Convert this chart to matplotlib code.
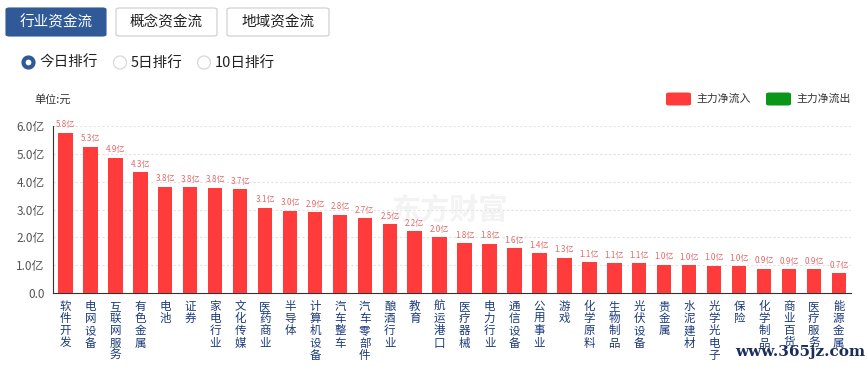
import matplotlib
matplotlib.use("Agg")
import matplotlib.pyplot as plt
from matplotlib.patches import FancyBboxPatch, Ellipse

plt.rcParams['font.family'] = ['Noto Sans CJK SC', 'DejaVu Sans']

# 行业资金流 今日排行 (单位: 亿元)
industries = ['软件开发', '电网设备', '互联网服务', '有色金属', '电池', '证券', '家电行业', '文化传媒',
              '医药商业', '半导体', '计算机设备', '汽车整车', '汽车零部件', '酿酒行业', '教育', '航运港口',
              '医疗器械', '电力行业', '通信设备', '公用事业', '游戏', '化学原料', '生物制品', '光伏设备',
              '贵金属', '水泥建材', '光学光电子', '保险', '化学制品', '商业百货', '医疗服务', '能源金属']
inflow = [5.76, 5.26, 4.86, 4.33, 3.82, 3.80, 3.78, 3.73,
          3.06, 2.96, 2.90, 2.82, 2.68, 2.48, 2.22, 2.01,
          1.78, 1.77, 1.61, 1.42, 1.27, 1.10, 1.07, 1.06,
          1.02, 1.01, 0.98, 0.97, 0.87, 0.86, 0.86, 0.72]
yticks = [0, 1, 2, 3, 4, 5, 6]
ytick_labels = ['0.0', '1.0亿', '2.0亿', '3.0亿', '4.0亿', '5.0亿', '6.0亿']

W, H = 867, 367
fig = plt.figure(figsize=(W / 100, H / 100), dpi=100)


def fx(x):
    return x / W


def fy(y):
    return 1 - y / H


# 顶部按钮
buttons = [('行业资金流', 6, 106, True), ('概念资金流', 116, 217, False), ('地域资金流', 227, 329, False)]
for label, x0, x1, active in buttons:
    box = FancyBboxPatch((fx(x0), fy(36)), fx(x1 - x0), (36 - 8) / H,
                         boxstyle='round,pad=0,rounding_size=0.004', transform=fig.transFigure,
                         facecolor='#2f5a97' if active else 'white',
                         edgecolor='#2f5a97' if active else '#c8ccd2', linewidth=0.8)
    fig.patches.append(box)
    fig.text(fx((x0 + x1) / 2), fy(22), label, ha='center', va='center', fontsize=10.5,
             color='white' if active else '#222222')

# 单选项
radios = [('今日排行', 28.5, True), ('5日排行', 120, False), ('10日排行', 204, False)]
for label, cx, on in radios:
    if on:
        fig.patches.append(Ellipse((fx(cx), fy(62.5)), 10 / W, 10 / H, transform=fig.transFigure,
                                   facecolor='white', edgecolor='#2f5a97', linewidth=3.0))
    else:
        fig.patches.append(Ellipse((fx(cx), fy(62.5)), 13 / W, 13 / H, transform=fig.transFigure,
                                   facecolor='white', edgecolor='#d5d8dc', linewidth=0.9))
    fig.text(fx(cx + 11), fy(62.5), label, ha='left', va='center', fontsize=10.5, color='#222222')

fig.text(fx(34), fy(99), '单位:元', ha='left', va='center', fontsize=8, color='#333333')

# 图例
for label, x0, color in [('主力净流入', 666, '#ff3b3b'), ('主力净流出', 766, '#0a9619')]:
    fig.patches.append(FancyBboxPatch((fx(x0), fy(105.5)), fx(25), 13 / H,
                                      boxstyle='round,pad=0,rounding_size=0.004',
                                      transform=fig.transFigure, facecolor=color, edgecolor='none'))
    fig.text(fx(x0 + 30), fy(99), label, ha='left', va='center', fontsize=7.8, color='#333333')

# 主图
ax = fig.add_axes([fx(53), fy(293), fx(851.3 - 53), (293 - 126) / H])
ax.set_facecolor('none')
x = list(range(len(industries)))
bars = ax.bar(x, inflow, width=0.58, color='#ff3b3b', zorder=3)
for xi, v in zip(x, inflow):
    ax.text(xi, v + 0.12, f'{v:.1f}亿', ha='center', va='bottom', fontsize=5.8,
            color='#e2686a', clip_on=False, zorder=4)

ax.set_xlim(-0.5, len(industries) - 0.5)
ax.set_ylim(0, 6)
ax.set_yticks(yticks)
ax.set_yticklabels(ytick_labels, fontsize=8.5, color='#555555')
ax.set_xticks(x)
ax.set_xticklabels(['\n'.join(n) for n in industries], fontsize=8.3, color='#1c3b7c',
                   linespacing=0.92, va='top')
ax.tick_params(axis='both', length=0)
ax.tick_params(axis='x', pad=5)
ax.tick_params(axis='y', pad=6)
for yv in yticks[1:]:
    ax.axhline(yv, color='#e2e2e2', linewidth=0.8, linestyle=(0, (2, 2)), zorder=1)
for side in ['top', 'right']:
    ax.spines[side].set_visible(False)
ax.spines['left'].set_color('#333333')
ax.spines['bottom'].set_color('#333333')
ax.spines['left'].set_linewidth(0.8)
ax.spines['bottom'].set_linewidth(0.8)

# 水印
ax.text(fx(450), fy(210), '东方财富', transform=fig.transFigure, ha='center', va='center',
        fontsize=21, color='#f3f3f3', fontweight='bold', zorder=0.5)
fig.text(fx(800), fy(352), 'www.365jz.com', ha='center', va='center', fontsize=11,
         family='DejaVu Serif', fontweight='bold', color='#1b2d5c')

fig.savefig('out.png', dpi=100)
plt.close(fig)
